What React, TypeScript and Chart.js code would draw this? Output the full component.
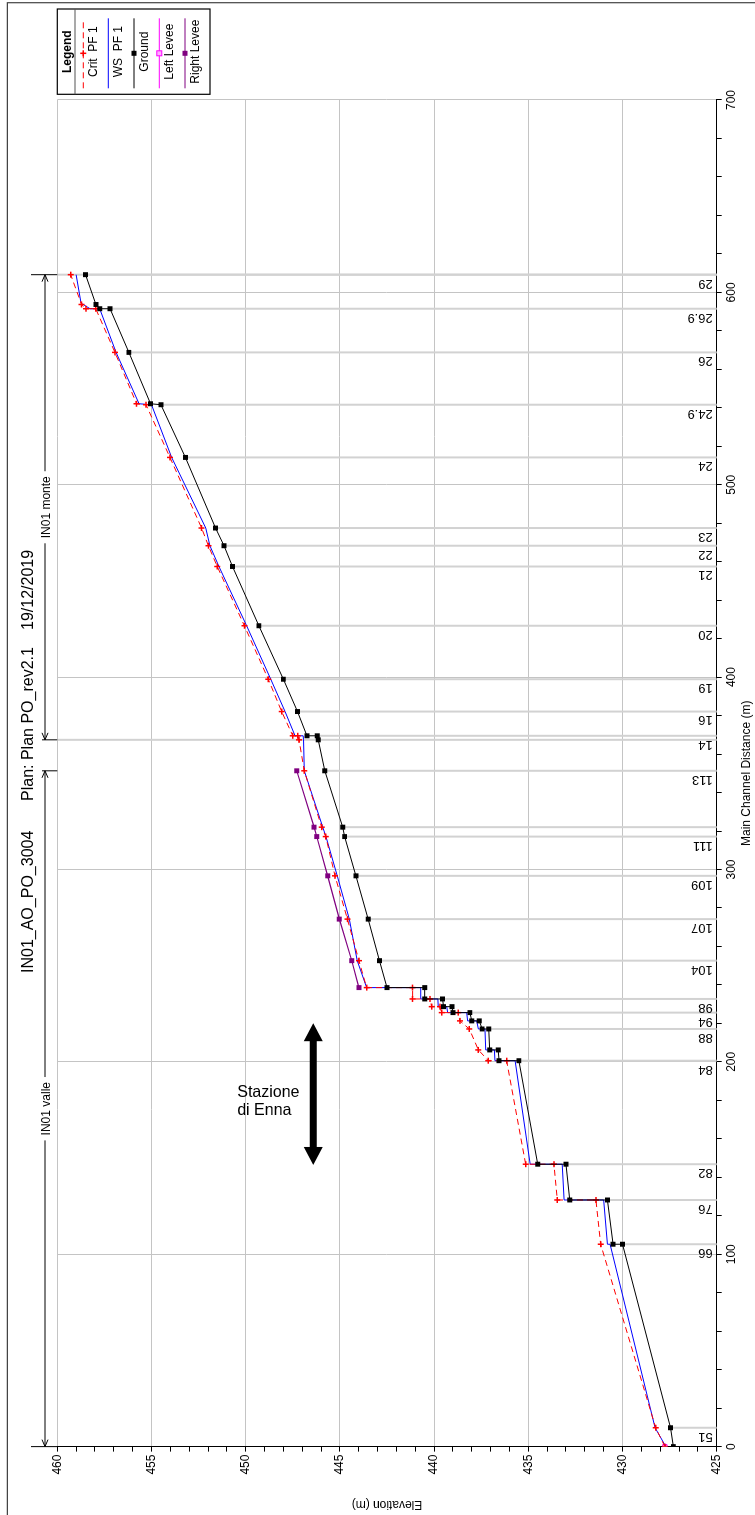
import React, { useEffect, useRef } from 'react';
import { Chart, registerables } from 'chart.js';

Chart.register(...registerables);

const FONT = 'Arial, "Liberation Sans", Helvetica, sans-serif';

// ---- Data (main channel distance in m, elevation in m) ----
const groundDist = [0, 9.8, 105.2, 105.2, 128.2, 128.2, 146.8, 146.8, 200.6, 200.6, 206.2, 206.2, 217.1, 217.1, 221.3, 221.3, 225.6, 225.6, 228.7, 228.7, 232.7, 232.7, 238.6, 238.6, 252.6, 274.2, 296.7, 317.1, 322, 351.3, 367.4, 369.5, 369.5, 382.1, 398.9, 426.7, 457.5, 468.3, 477.5, 514.2, 541.6, 542.1, 568.8, 591.5, 591.5, 593.7, 609.2];
const groundElev = [427.3, 427.45, 430.0, 430.5, 430.8, 432.8, 433.0, 434.5, 435.5, 436.55, 436.6, 437.05, 437.1, 437.45, 437.6, 438.0, 438.1, 439.0, 439.05, 439.5, 439.55, 440.5, 440.5, 442.5, 442.9, 443.5, 444.15, 444.75, 444.85, 445.8, 446.15, 446.2, 446.75, 447.25, 448.0, 449.3, 450.7, 451.15, 451.6, 453.2, 454.5, 455.05, 456.2, 457.2, 457.75, 457.95, 458.5];

const wsDist = [0, 9.8, 105.2, 105.2, 128.2, 128.2, 146.8, 146.8, 200.6, 200.6, 206.2, 206.2, 217.1, 217.1, 221.3, 221.3, 225.6, 225.6, 228.7, 228.7, 232.7, 232.7, 238.6, 238.6, 252.6, 274.2, 296.7, 317.1, 322, 351.3, 367.4, 369.5, 369.5, 382.1, 398.9, 426.7, 457.5, 468.3, 477.5, 514.2, 541.6, 542.1, 568.8, 591.5, 591.5, 594.4, 609.2];
const wsElev = [427.7, 428.27, 430.66, 430.8, 431.0, 433.1, 433.2, 434.9, 435.7, 436.77, 436.8, 437.26, 437.3, 437.65, 437.74, 438.22, 438.27, 439.28, 439.33, 439.78, 439.8, 440.71, 440.71, 443.58, 444.08, 444.5, 445.14, 445.74, 445.91, 446.89, 446.93, 446.95, 447.38, 447.91, 448.67, 449.95, 451.42, 451.9, 452.12, 453.93, 455.0, 455.66, 456.88, 457.75, 458.26, 458.74, 459.0];

const critDist = [0, 9.8, 105.2, 128.2, 128.2, 146.8, 146.8, 200.6, 200.6, 206.2, 217.1, 221.3, 225.6, 225.6, 228.7, 228.7, 232.7, 232.7, 238.6, 238.6, 252.6, 274.2, 296.7, 317.1, 322, 351.3, 367.4, 369.5, 369.5, 382.1, 398.9, 426.7, 457.5, 468.3, 477.5, 514.2, 541.6, 542.1, 568.8, 591.5, 591.5, 593.7, 609.2];
const critElev = [427.75, 428.24, 431.16, 431.41, 433.46, 433.64, 435.14, 436.15, 437.12, 437.65, 438.13, 438.63, 438.72, 439.6, 439.69, 440.13, 440.22, 441.14, 441.14, 443.58, 443.99, 444.6, 445.26, 445.75, 445.97, 446.89, 447.17, 447.24, 447.5, 448.09, 448.8, 450.07, 451.51, 451.98, 452.34, 454.02, 455.29, 455.79, 456.94, 457.96, 458.48, 458.71, 459.29];

const rightLeveeDist = [238.6, 252.6, 274.2, 296.7, 317.1, 322, 351.3];
const rightLeveeElev = [443.99, 444.37, 445.03, 445.65, 446.23, 446.37, 447.29];

const leftLeveeDist = [0];
const leftLeveeElev = [427.75];

// River stations (section lines + labels)
const stationDist = [9.8, 105.2, 128.2, 146.8, 200.6, 217.1, 225.6, 232.7, 252.6, 274.2, 296.7, 317.1, 322, 351.3, 369.5, 382.1, 398.9, 426.7, 457.5, 468.3, 477.5, 514.2, 541.6, 568.8, 591.5, 609.2];
const stationLabels = ['51', '66', '76', '82', '84', '88', '94', '98', '104', '107', '109', '111', '', '113', '14', '16', '19', '20', '21', '22', '23', '24', '24.9', '26', '26.9', '29'];
const fullLineDist = [367.4, 609.2];

// Reach annotations
const reachNames = ['IN01 valle', 'IN01 monte'];
const reachStart = [0, 367.4];
const reachEnd = [351.3, 609.2];

const titleParts = ['IN01_AO_PO_3004', 'Plan: Plan PO_rev2.1', '19/12/2019'];
const legendNames = ['Crit  PF 1', 'WS  PF 1', 'Ground', 'Left Levee', 'Right Levee'];

const W = 1515;
const H = 755;

function minGroundAt(d: number) {
  let m = Infinity;
  groundDist.forEach((g, i) => { if (Math.abs(g - d) < 0.01) m = Math.min(m, groundElev[i]); });
  if (m === Infinity) {
    for (let i = 0; i < groundDist.length - 1; i++) {
      if (d >= groundDist[i] && d <= groundDist[i + 1]) {
        const t = (d - groundDist[i]) / (groundDist[i + 1] - groundDist[i] || 1);
        m = groundElev[i] + t * (groundElev[i + 1] - groundElev[i]);
        break;
      }
    }
  }
  return m;
}

function drawMarker(ctx: CanvasRenderingContext2D, kind: string, x: number, y: number, color: string) {
  ctx.save();
  if (kind === 'cross') {
    ctx.strokeStyle = color; ctx.lineWidth = 1.5;
    ctx.beginPath(); ctx.moveTo(x - 3, y); ctx.lineTo(x + 3, y); ctx.moveTo(x, y - 3); ctx.lineTo(x, y + 3); ctx.stroke();
  } else if (kind === 'rect') {
    ctx.fillStyle = color; ctx.fillRect(x - 2.5, y - 2.5, 5, 5);
  } else if (kind === 'hollow') {
    ctx.fillStyle = '#ffb0ff'; ctx.fillRect(x - 2.5, y - 2.5, 5, 5);
    ctx.strokeStyle = color; ctx.lineWidth = 1; ctx.strokeRect(x - 2.5, y - 2.5, 5, 5);
  }
  ctx.restore();
}

function arrowHead(ctx: CanvasRenderingContext2D, tx: number, ty: number, dir: number) {
  ctx.beginPath();
  ctx.moveTo(tx - dir * 7, ty - 3);
  ctx.lineTo(tx, ty);
  ctx.lineTo(tx - dir * 7, ty + 3);
  ctx.stroke();
}

const overlayPlugin = {
  id: 'overlay',
  beforeDatasetsDraw(chart: any) {
    const { ctx, chartArea, scales } = chart;
    const x = scales.x, y = scales.y;
    ctx.save();
    ctx.strokeStyle = '#d2d2d2';
    ctx.lineWidth = 2;
    stationDist.forEach((d) => {
      const px = x.getPixelForValue(d);
      ctx.beginPath();
      ctx.moveTo(px, y.getPixelForValue(minGroundAt(d)));
      ctx.lineTo(px, chartArea.bottom);
      ctx.stroke();
    });
    fullLineDist.forEach((d) => {
      const px = x.getPixelForValue(d);
      ctx.beginPath();
      ctx.moveTo(px, chartArea.top);
      ctx.lineTo(px, chartArea.bottom);
      ctx.stroke();
    });
    ctx.restore();
  },
  afterDraw(chart: any) {
    const { ctx, chartArea, scales } = chart;
    const x = scales.x, y = scales.y;
    ctx.save();

    // outer frame
    ctx.strokeStyle = '#444';
    ctx.lineWidth = 1.2;
    ctx.beginPath();
    ctx.moveTo(0, 7.3); ctx.lineTo(1512.3, 7.3); ctx.lineTo(1512.3, H);
    ctx.stroke();

    // station labels
    ctx.fillStyle = '#000';
    ctx.font = `13px ${FONT}`;
    stationDist.forEach((d, i) => {
      const lab = stationLabels[i];
      if (!lab) return;
      ctx.save();
      ctx.translate(x.getPixelForValue(d) - 2, chartArea.bottom - 4);
      ctx.rotate(-Math.PI / 2);
      ctx.textAlign = 'left';
      ctx.textBaseline = 'bottom';
      ctx.fillText(lab, 0, 0);
      ctx.restore();
    });

    // axis titles
    ctx.font = `12px ${FONT}`;
    ctx.textAlign = 'center';
    ctx.textBaseline = 'top';
    ctx.fillText('Main Channel Distance (m)', (chartArea.left + chartArea.right) / 2, 741);
    ctx.save();
    ctx.translate(11, (chartArea.top + chartArea.bottom) / 2);
    ctx.rotate(-Math.PI / 2);
    ctx.textBaseline = 'middle';
    ctx.fillText('Elevation (m)', 0, 0);
    ctx.restore();

    // title
    ctx.font = `16px ${FONT}`;
    ctx.textAlign = 'left';
    ctx.textBaseline = 'alphabetic';
    const titleX = [542, 714, 885];
    titleParts.forEach((t, i) => ctx.fillText(t, titleX[i], 33));

    // reach dimension lines
    ctx.strokeStyle = '#000';
    ctx.lineWidth = 1;
    ctx.font = `12px ${FONT}`;
    const dimY = 45;
    reachNames.forEach((name, i) => {
      const x1 = x.getPixelForValue(reachStart[i]);
      const x2 = x.getPixelForValue(reachEnd[i]);
      const cx = (x1 + x2) / 2;
      const tw = ctx.measureText(name).width;
      ctx.beginPath();
      ctx.moveTo(x1, dimY); ctx.lineTo(cx - tw / 2 - 5, dimY);
      ctx.moveTo(cx + tw / 2 + 5, dimY); ctx.lineTo(x2, dimY);
      ctx.stroke();
      arrowHead(ctx, x1, dimY, -1);
      arrowHead(ctx, x2, dimY, 1);
      ctx.textAlign = 'center';
      ctx.textBaseline = 'middle';
      ctx.fillText(name, cx, dimY + 1.5);
      // extension lines
      ctx.beginPath();
      ctx.moveTo(x1, i === 0 ? 31 : 42); ctx.lineTo(x1, chartArea.top);
      ctx.moveTo(x2, i === 0 ? 42 : 31); ctx.lineTo(x2, chartArea.top);
      ctx.stroke();
    });

    // big double arrow (station)
    const ay = y.getPixelForValue(446.41);
    const ax1 = x.getPixelForValue(146.4);
    const ax2 = x.getPixelForValue(220.1);
    ctx.fillStyle = '#000';
    ctx.beginPath();
    ctx.moveTo(ax1, ay);
    ctx.lineTo(ax1 + 18, ay - 9.5);
    ctx.lineTo(ax1 + 18, ay - 3.5);
    ctx.lineTo(ax2 - 18, ay - 3.5);
    ctx.lineTo(ax2 - 18, ay - 9.5);
    ctx.lineTo(ax2, ay);
    ctx.lineTo(ax2 - 18, ay + 9.5);
    ctx.lineTo(ax2 - 18, ay + 3.5);
    ctx.lineTo(ax1 + 18, ay + 3.5);
    ctx.lineTo(ax1 + 18, ay + 9.5);
    ctx.closePath();
    ctx.fill();

    // "Stazione di Enna" (upright in the final view)
    ctx.save();
    ctx.translate(x.getPixelForValue(181.7), y.getPixelForValue(450.45));
    ctx.rotate(Math.PI / 2);
    ctx.font = `16px ${FONT}`;
    ctx.textAlign = 'left';
    ctx.textBaseline = 'alphabetic';
    ctx.fillText('Stazione', 0, 0);
    ctx.fillText('di Enna', 0, 18);
    ctx.restore();

    // legend
    const lx0 = 1420.7, lx1 = 1506, ly0 = 57.3, ly1 = 210;
    const lcx = (lx0 + lx1) / 2;
    ctx.fillStyle = '#fff';
    ctx.fillRect(lx0, ly0, lx1 - lx0, ly1 - ly0);
    ctx.strokeStyle = '#000';
    ctx.lineWidth = 1.2;
    ctx.strokeRect(lx0, ly0, lx1 - lx0, ly1 - ly0);
    ctx.strokeStyle = '#555';
    ctx.beginPath(); ctx.moveTo(lx0, 75); ctx.lineTo(lx1, 75); ctx.stroke();
    ctx.fillStyle = '#000';
    ctx.font = `bold 12px ${FONT}`;
    ctx.textAlign = 'center';
    ctx.textBaseline = 'alphabetic';
    ctx.fillText('Legend', lcx, 71);
    const rowY = [83.3, 108.3, 134, 159.3, 185];
    const rowColor = ['#ff0000', '#0000ff', '#000000', '#ff00ff', '#800080'];
    const rowMarker = ['cross', 'none', 'rect', 'hollow', 'rect'];
    ctx.font = `12px ${FONT}`;
    legendNames.forEach((n, i) => {
      ctx.save();
      ctx.strokeStyle = rowColor[i];
      ctx.lineWidth = 1;
      if (i === 0) ctx.setLineDash([6, 4]);
      ctx.beginPath(); ctx.moveTo(1426.7, rowY[i]); ctx.lineTo(1496.7, rowY[i]); ctx.stroke();
      ctx.restore();
      drawMarker(ctx, rowMarker[i], 1461.7, rowY[i], rowColor[i]);
      ctx.fillStyle = '#000';
      ctx.fillText(n, lcx, rowY[i] + 14);
    });

    ctx.restore();
  },
};

export default function App() {
  const ref = useRef<HTMLCanvasElement>(null);
  useEffect(() => {
    const pts = (ds: number[], es: number[]) => ds.map((d, i) => ({ x: d, y: es[i] }));
    const chart = new Chart(ref.current as HTMLCanvasElement, {
      type: 'scatter',
      data: {
        datasets: [
          {
            label: 'Ground', data: pts(groundDist, groundElev), showLine: true,
            borderColor: '#000000', borderWidth: 1, pointStyle: 'rect', pointRadius: 3.5,
            pointBackgroundColor: '#000000', pointBorderColor: '#000000', pointBorderWidth: 0,
          },
          {
            label: 'Crit PF 1', data: pts(critDist, critElev), showLine: true,
            borderColor: '#ff0000', borderWidth: 1, borderDash: [6, 4], pointStyle: 'cross', pointRadius: 3,
            pointBorderColor: '#ff0000', pointBackgroundColor: '#ff0000', pointBorderWidth: 1.5,
          },
          {
            label: 'WS PF 1', data: pts(wsDist, wsElev), showLine: true,
            borderColor: '#0000ff', borderWidth: 1, pointRadius: 0,
          },
          {
            label: 'Right Levee', data: pts(rightLeveeDist, rightLeveeElev), showLine: true,
            borderColor: '#800080', borderWidth: 1.2, pointStyle: 'rect', pointRadius: 3.5,
            pointBackgroundColor: '#800080', pointBorderColor: '#800080', pointBorderWidth: 0,
          },
          {
            label: 'Left Levee', data: pts(leftLeveeDist, leftLeveeElev), showLine: true,
            borderColor: '#ff00ff', borderWidth: 1, pointStyle: 'rect', pointRadius: 3,
            pointBackgroundColor: '#ffb0ff', pointBorderColor: '#ff00ff', pointBorderWidth: 1,
          },
        ],
      },
      options: {
        responsive: false,
        animation: false,
        devicePixelRatio: 1,
        layout: { padding: { left: 0, top: 57.3, right: 100, bottom: 0 } },
        plugins: { legend: { display: false }, tooltip: { enabled: false }, title: { display: false } },
        scales: {
          x: {
            type: 'linear', position: 'bottom', min: 0, max: 700,
            afterFit: (s: any) => { s.height = 38.3; },
            ticks: {
              stepSize: 20, maxTicksLimit: 100, autoSkip: false, maxRotation: 0, minRotation: 0,
              padding: 3, color: '#000', font: { family: FONT, size: 12 },
              callback: (v: any) => (Number(v) % 100 === 0 ? String(v) : ''),
            },
            grid: {
              color: (c: any) => (c.tick && c.tick.value % 100 === 0 ? '#c4c4c4' : 'rgba(0,0,0,0)'),
              tickColor: '#000', tickLength: 5, lineWidth: 1,
            },
            border: { color: '#000', width: 1 },
          },
          y: {
            type: 'linear', position: 'left', min: 425, max: 460,
            afterFit: (s: any) => { s.width = 68.4; },
            ticks: {
              stepSize: 1, maxTicksLimit: 100, autoSkip: false, padding: 3, color: '#000',
              font: { family: FONT, size: 12 },
              callback: (v: any) => (Number(v) % 5 === 0 ? String(v) : ''),
            },
            grid: {
              color: (c: any) => (c.tick && c.tick.value % 5 === 0 ? '#c4c4c4' : 'rgba(0,0,0,0)'),
              tickColor: '#000', tickLength: 5, lineWidth: 1,
            },
            border: { color: '#000', width: 1 },
          },
        },
      } as any,
      plugins: [overlayPlugin],
    });
    return () => chart.destroy();
  }, []);

  return (
    <div style={{ position: 'absolute', left: 0, top: 0, width: 755, height: 1515, overflow: 'hidden', background: '#fff' }}>
      <div
        style={{
          position: 'absolute', left: 0, top: 0, width: W, height: H,
          transformOrigin: '0 0', transform: `translateY(${W}px) rotate(-90deg)`,
        }}
      >
        <canvas ref={ref} width={W} height={H} style={{ display: 'block', width: W, height: H }} />
      </div>
    </div>
  );
}
